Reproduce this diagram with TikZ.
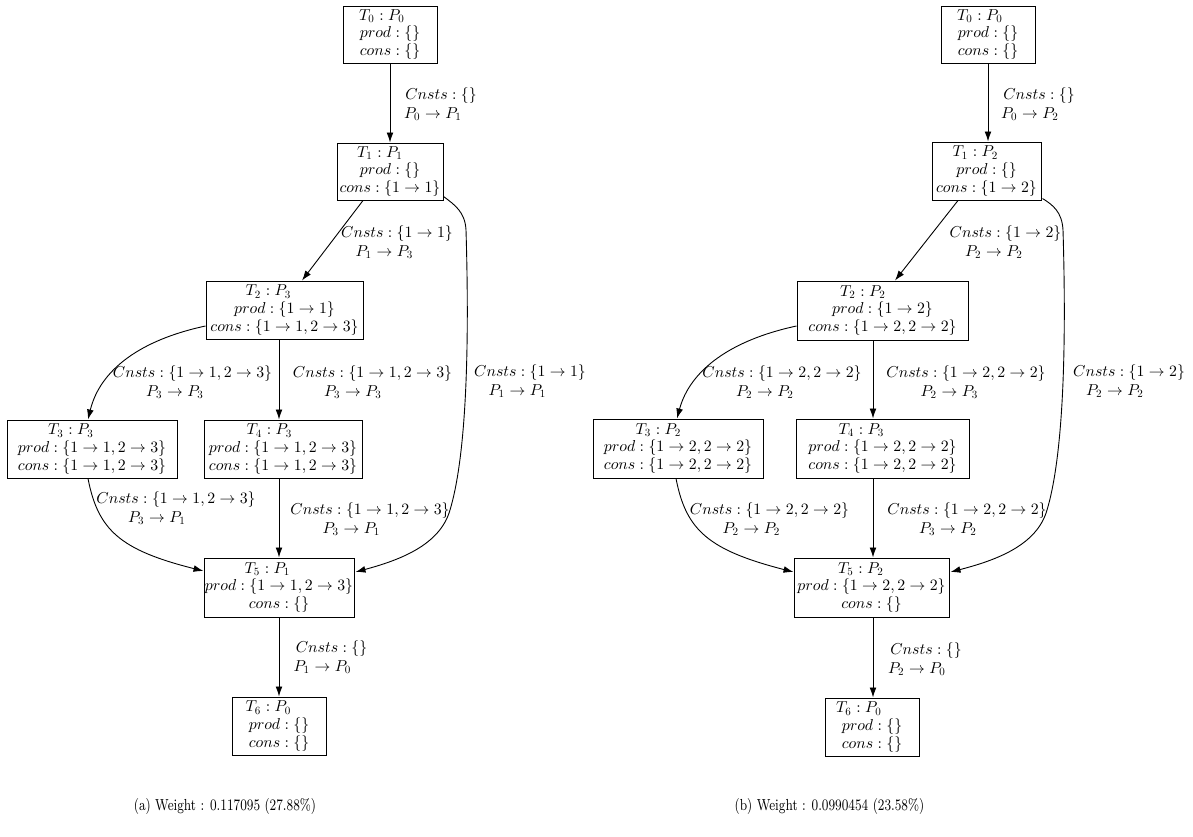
\documentclass[tikz,border=0pt]{standalone}
\usepackage{fontspec}
\usepackage{graphicx}
\DeclareFontShape{OML}{cmm}{m}{it}{<->cmmi10}{}
\DeclareFontShape{OMS}{cmsy}{m}{n}{<->cmsy10}{}
\DeclareFontShape{OT1}{cmr}{m}{n}{<->cmr10}{}
\usetikzlibrary{arrows.meta,calc}
\tikzset{
  box/.style={draw, line width=0.5pt, inner sep=0pt, align=center, font=\fontsize{7.9}{8.9}\selectfont},
  elabel/.style={inner sep=0pt, align=center, font=\fontsize{7.9}{9.3}\selectfont},
  edge/.style={draw, line width=0.45pt, -{Latex[length=5pt,width=3.4pt]}},
  capt/.style={inner sep=0pt, font=\fontsize{8}{9}\selectfont}
}
\newcommand\Bx[4]{$#2$\kern#1pt\\$#3$\\$#4$}
\newcommand\Lbl[3]{$#2$\\$#3$\kern#1pt}
\newcommand\Cap[1]{\scalebox{0.78}[1]{#1}}
\begin{document}
\begin{tikzpicture}[x=0.5pt,y=-0.5pt]
\useasboundingbox (0,0) rectangle (1193,836);
% ---------- left graph ----------
\node[box,minimum width=47pt,minimum height=28.5pt] (L0) at (390,34.5) {\Bx{8}{T_0 : P_0}{prod : \{\}}{cons : \{\}}};
\node[box,minimum width=53pt,minimum height=28.5pt] (L1) at (390,171.5) {\Bx{10}{T_1 : P_1}{prod : \{\}}{cons : \{1 \rightarrow 1\}}};
\node[box,minimum width=78.5pt,minimum height=29pt] (L2) at (284.5,310) {\Bx{16}{T_2 : P_3}{prod : \{1 \rightarrow 1\}}{cons : \{1 \rightarrow 1, 2 \rightarrow 3\}}};
\node[box,minimum width=85pt,minimum height=29pt] (L3) at (92,449) {\Bx{21}{T_3 : P_3}{prod : \{1 \rightarrow 1, 2 \rightarrow 3\}}{cons : \{1 \rightarrow 1, 2 \rightarrow 3\}}};
\node[box,minimum width=79pt,minimum height=29pt] (L4) at (283,449) {\Bx{13.5}{T_4 : P_3}{prod : \{1 \rightarrow 1, 2 \rightarrow 3\}}{cons : \{1 \rightarrow 1, 2 \rightarrow 3\}}};
\node[box,minimum width=75pt,minimum height=29.5pt] (L5) at (279,587.5) {\Bx{11.5}{T_5 : P_1}{prod : \{1 \rightarrow 1, 2 \rightarrow 3\}}{cons : \{\}}};
\node[box,minimum width=47pt,minimum height=29pt] (L6) at (279,726) {\Bx{10.5}{T_6 : P_0}{prod : \{\}}{cons : \{\}}};

\draw[edge] (L0.south) -- (L1.north);
\draw[edge] ($(L1.south)+(-27,0)$) -- ($(L2.north)+(17.5,0)$);
\draw[edge] ($(L1.south east)+(0,-4)$) .. controls (455,205) and (465,212) .. (466,230)
   .. controls (469,330) and (468,450) .. (450,510)
   .. controls (440,545) and (400,560) .. ($(L5.east)+(1,-15.5)$);
\draw[edge] ($(L2.west)+(0,16)$) .. controls (140,340) and (100,370) .. ($(L3.north)+(-4,0)$);
\draw[edge] ($(L2.south)+(-5.5,0)$) -- ($(L4.north)+(-4,0)$);
\draw[edge] ($(L3.south)+(-4,0)$) .. controls (98,530) and (120,550) .. ($(L5.west)+(0,-16.5)$);
\draw[edge] ($(L4.south)+(-4,0)$) -- (L5.north);
\draw[edge] (L5.south) -- (L6.north);

\node[elabel] (lL01) at (441,104) {\Lbl{8}{Cnsts : \{\}}{P_0 \rightarrow P_1}};
\node[elabel] (lL12) at (397,242) {\Lbl{12.5}{Cnsts : \{1 \rightarrow 1\}}{P_1 \rightarrow P_3}};
\node[elabel] (lL15) at (530,381.5) {\Lbl{12.5}{Cnsts : \{1 \rightarrow 1\}}{P_1 \rightarrow P_1}};
\node[elabel] (lL23) at (192.5,382.5) {\Lbl{17.5}{Cnsts : \{1 \rightarrow 1, 2 \rightarrow 3\}}{P_3 \rightarrow P_3}};
\node[elabel] (lL24) at (372.5,382.5) {\Lbl{19.5}{Cnsts : \{1 \rightarrow 1, 2 \rightarrow 3\}}{P_3 \rightarrow P_3}};
\node[elabel] (lL35) at (176,508) {\Lbl{19}{Cnsts : \{1 \rightarrow 1, 2 \rightarrow 3\}}{P_3 \rightarrow P_1}};
\node[elabel] (lL45) at (370,519.5) {\Lbl{18.5}{Cnsts : \{1 \rightarrow 1, 2 \rightarrow 3\}}{P_3 \rightarrow P_1}};
\node[elabel] (lL56) at (331.5,657.5) {\Lbl{9}{Cnsts : \{\}}{P_1 \rightarrow P_0}};

% ---------- right graph ----------
\node[box,minimum width=47pt,minimum height=28.5pt] (R0) at (988,34.5) {\Bx{8}{T_0 : P_0}{prod : \{\}}{cons : \{\}}};
\node[box,minimum width=54.5pt,minimum height=29pt] (R1) at (986.5,171) {\Bx{11}{T_1 : P_2}{prod : \{\}}{cons : \{1 \rightarrow 2\}}};
\node[box,minimum width=85.5pt,minimum height=29.5pt] (R2) at (882.5,310.5) {\Bx{19.5}{T_2 : P_2}{prod : \{1 \rightarrow 2\}}{cons : \{1 \rightarrow 2, 2 \rightarrow 2\}}};
\node[box,minimum width=85pt,minimum height=29.5pt] (R3) at (678,448.5) {\Bx{19.5}{T_3 : P_2}{prod : \{1 \rightarrow 2, 2 \rightarrow 2\}}{cons : \{1 \rightarrow 2, 2 \rightarrow 2\}}};
\node[box,minimum width=86.5pt,minimum height=29.5pt] (R4) at (882.5,448.5) {\Bx{21}{T_4 : P_3}{prod : \{1 \rightarrow 2, 2 \rightarrow 2\}}{cons : \{1 \rightarrow 2, 2 \rightarrow 2\}}};
\node[box,minimum width=77.5pt,minimum height=29.5pt] (R5) at (871.5,587.5) {\Bx{10.5}{T_5 : P_2}{prod : \{1 \rightarrow 2, 2 \rightarrow 2\}}{cons : \{\}}};
\node[box,minimum width=47pt,minimum height=29pt] (R6) at (872,727) {\Bx{13}{T_6 : P_0}{prod : \{\}}{cons : \{\}}};

\draw[edge] (R0.south) -- ($(R1.north)+(1.5,0)$);
\draw[edge] ($(R1.south)+(-28.5,0)$) -- ($(R2.north)+(12.5,0)$);
\draw[edge] ($(R1.south east)+(1,-2)$) .. controls (1053,205) and (1062,212) .. (1063,230)
   .. controls (1066,330) and (1065,450) .. (1047,510)
   .. controls (1037,545) and (997,560) .. ($(R5.east)+(1,-15.5)$);
\draw[edge] ($(R2.west)+(0,15.5)$) .. controls (731,340) and (690,370) .. ($(R3.north)+(-1,0)$);
\draw[edge] ($(R2.south)+(-9.5,0)$) -- ($(R4.north)+(-9.5,0)$);
\draw[edge] ($(R3.south)+(-2,0)$) .. controls (686,530) and (708,550) .. ($(R5.west)+(0,-15.5)$);
\draw[edge] ($(R4.south)+(-9.5,0)$) -- ($(R5.north)+(1.5,0)$);
\draw[edge] ($(R5.south)+(1.5,0)$) -- ($(R6.north)+(1,0)$);

\node[elabel] (lR01) at (1039,104) {\Lbl{9}{Cnsts : \{\}}{P_0 \rightarrow P_2}};
\node[elabel] (lR12) at (1005.5,242) {\Lbl{11.5}{Cnsts : \{1 \rightarrow 2\}}{P_2 \rightarrow P_2}};
\node[elabel] (lR15) at (1129,381) {\Lbl{14}{Cnsts : \{1 \rightarrow 2\}}{P_2 \rightarrow P_2}};
\node[elabel] (lR23) at (782,382.5) {\Lbl{17}{Cnsts : \{1 \rightarrow 2, 2 \rightarrow 2\}}{P_2 \rightarrow P_2}};
\node[elabel] (lR24) at (966,382.5) {\Lbl{16.5}{Cnsts : \{1 \rightarrow 2, 2 \rightarrow 2\}}{P_2 \rightarrow P_3}};
\node[elabel] (lR35) at (769.5,519) {\Lbl{18}{Cnsts : \{1 \rightarrow 2, 2 \rightarrow 2\}}{P_2 \rightarrow P_2}};
\node[elabel] (lR45) at (967,519) {\Lbl{19}{Cnsts : \{1 \rightarrow 2, 2 \rightarrow 2\}}{P_3 \rightarrow P_2}};
\node[elabel] (lR56) at (926,659.5) {\Lbl{9}{Cnsts : \{\}}{P_2 \rightarrow P_0}};

% ---------- captions ----------
\node[capt] (capA) at (225,806) {\Cap{(a) Weight : 0.117095 (27.88\%)}};
\node[capt] (capB) at (829.5,806) {\Cap{(b) Weight : 0.0990454 (23.58\%)}};
\end{tikzpicture}
\end{document}
